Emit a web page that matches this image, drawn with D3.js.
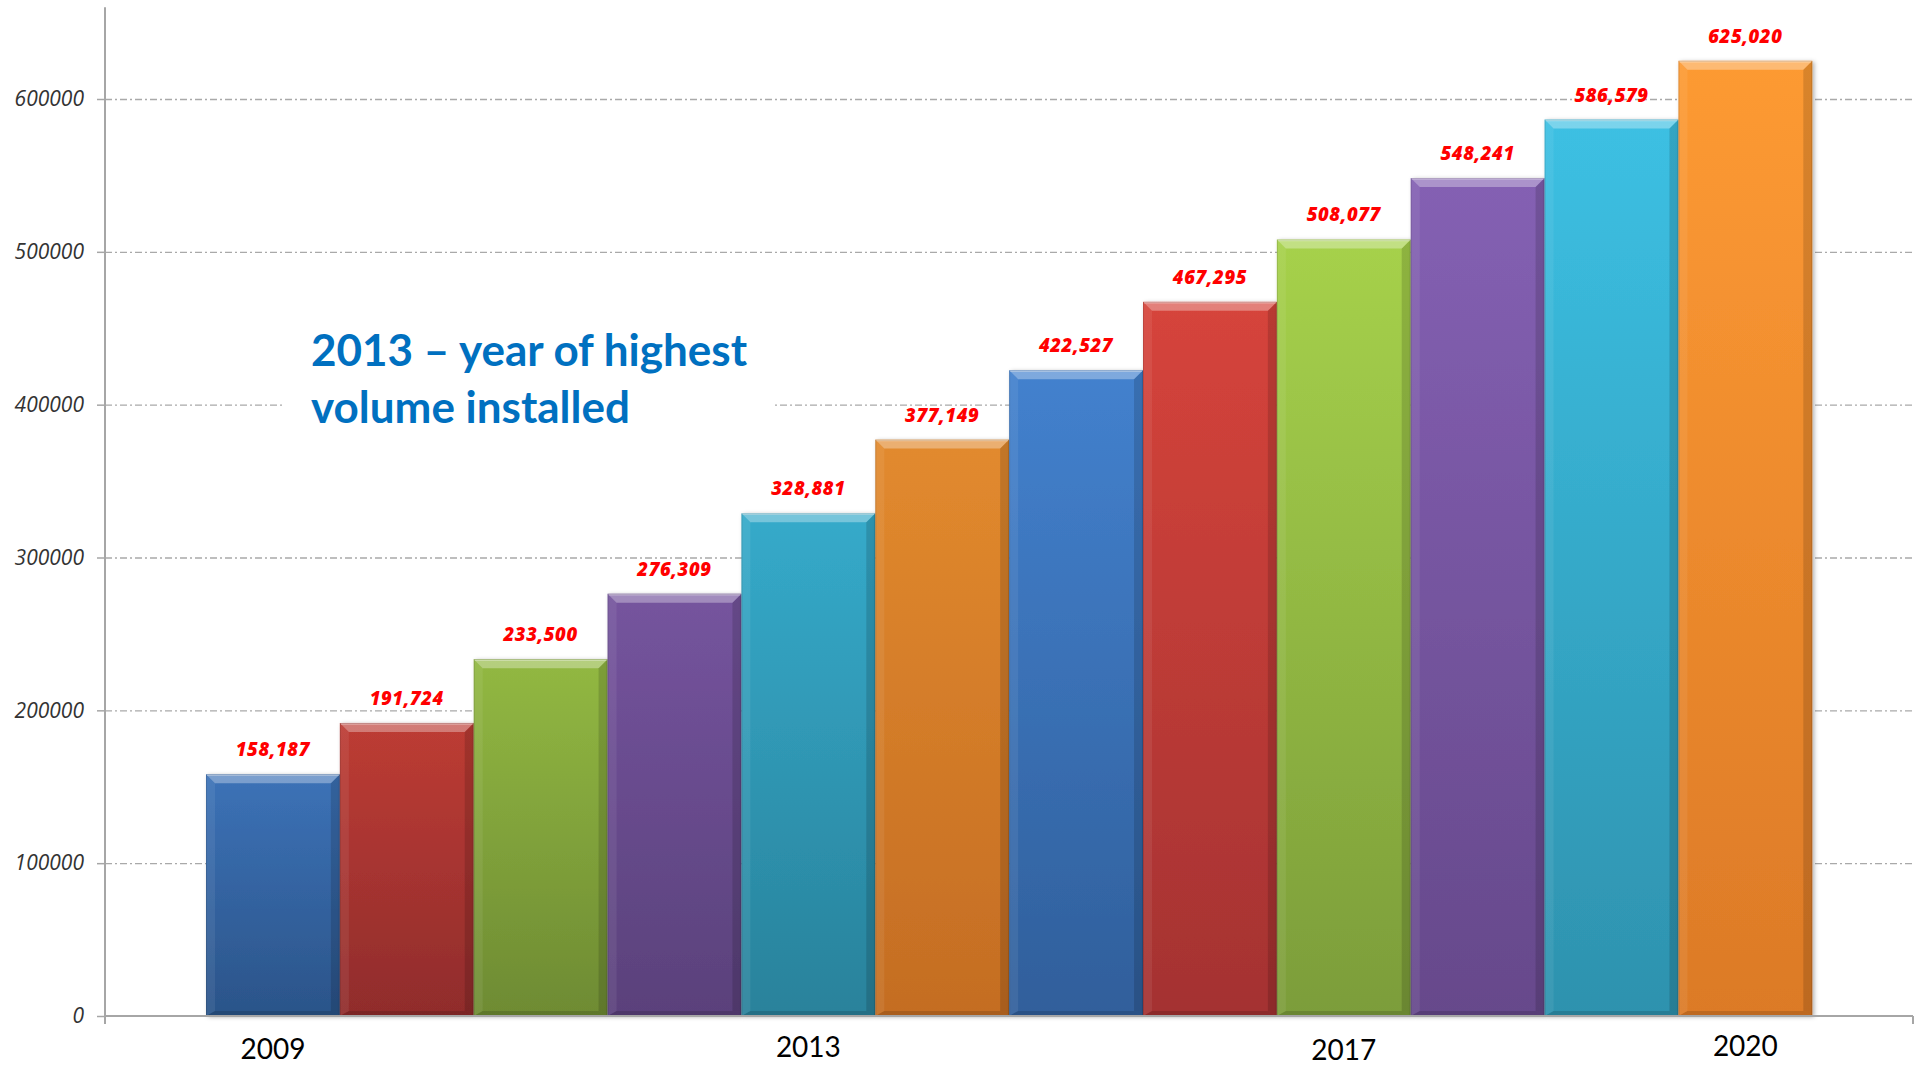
<!DOCTYPE html>
<html>
<head>
<meta charset="utf-8">
<script src="https://cdn.jsdelivr.net/npm/d3@7"></script>
<style>
  html, body { margin: 0; padding: 0; background: #ffffff; }
  svg { display: block; }
</style>
</head>
<body>
<svg id="chart" width="1919" height="1067"></svg>
<script>
// Cumulative installations per year
const years = ["2009", "2010", "2011", "2012", "2013", "2014", "2015", "2016", "2017", "2018", "2019", "2020"];
const installed = [158187, 191724, 233500, 276309, 328881, 377149, 422527, 467295, 508077, 548241, 586579, 625020];
const yTicks = [0, 100000, 200000, 300000, 400000, 500000, 600000];
const yearLabels = ["2009", "2013", "2017", "2020"];
const noteLines = ["2013 – year of highest", "volume installed"];

// Office-style palette: top and bottom gradient colours at full height
const hueTop    = ["#4a8de2", "#e6493f", "#afdc4f", "#8963b9", "#3dc3e7", "#fd9a33"];
const hueBottom = ["#3568aa", "#b03636", "#83a63d", "#6a4c90", "#2f95b1", "#dc7a27"];

const svg = d3.select("#chart");
const axisLeftX = 105, axisRightX = 1913, baseY = 1016;

const x = d3.scaleBand().domain(years).range([206, 1812.3]).padding(0);
const y = d3.scaleLinear().domain([0, 660000]).range([baseY, 7.3]);
const maxV = d3.max(installed);

const topScale = d3.scaleOrdinal().domain(years).range(hueTop);
const botScale = d3.scaleOrdinal().domain(years).range(hueBottom);

const defs = svg.append("defs");
const shadow = defs.append("filter").attr("id", "barShadow")
  .attr("x", "-10%").attr("y", "-10%").attr("width", "130%").attr("height", "130%");
shadow.append("feDropShadow").attr("dx", 2).attr("dy", 1).attr("stdDeviation", 2)
  .attr("flood-color", "#000").attr("flood-opacity", 0.3);

const data = years.map((yr, i) => ({ year: yr, value: installed[i] }));

data.forEach((d, i) => {
  const dim = (1 - d.value / maxV) * 0.8;
  const g = defs.append("linearGradient").attr("id", "grad" + i)
    .attr("x1", 0).attr("y1", 0).attr("x2", 0).attr("y2", 1);
  g.append("stop").attr("offset", "0%").attr("stop-color", d3.color(topScale(d.year)).darker(dim));
  g.append("stop").attr("offset", "100%").attr("stop-color", d3.color(botScale(d.year)).darker(dim));
});

// Gridlines (dash-dot)
svg.append("g")
  .attr("transform", `translate(${axisLeftX},0)`)
  .call(d3.axisLeft(y).tickValues(yTicks.filter(t => t > 0)).tickSize(-(axisRightX - axisLeftX)).tickFormat(""))
  .call(g => g.select(".domain").remove())
  .call(g => g.selectAll("line").attr("stroke", "#a9a9a9").attr("stroke-width", 1.3).attr("stroke-dasharray", "7,3,2,3"));

// Y axis with outward ticks and italic labels
svg.append("g")
  .attr("transform", `translate(${axisLeftX},0)`)
  .call(d3.axisLeft(y).tickValues(yTicks).tickSize(8).tickPadding(13).tickFormat(d3.format("d")))
  .call(g => g.select(".domain").remove())
  .call(g => g.selectAll("line").attr("stroke", "#a6a6a6").attr("stroke-width", 1.5))
  .call(g => g.selectAll("text")
    .attr("fill", "#333333")
    .style("font-family", "'Open Sans', sans-serif")
    .style("font-style", "italic")
    .style("font-size", "21px"));

svg.append("line")
  .attr("x1", axisLeftX).attr("x2", axisLeftX).attr("y1", y.range()[1]).attr("y2", baseY + 8)
  .attr("stroke", "#a6a6a6").attr("stroke-width", 2);

// Annotation box (white backing hides gridline behind the text)
svg.append("rect").attr("x", 284).attr("y", 306).attr("width", 488).attr("height", 132).attr("fill", "#ffffff");
svg.append("text")
  .attr("x", 311).attr("y", 366)
  .attr("fill", "#0070c0")
  .style("font-family", "Lato, sans-serif")
  .style("font-weight", "700")
  .style("font-size", "44px")
  .selectAll("tspan").data(noteLines).join("tspan")
  .attr("x", 311).attr("dy", (d, i) => i === 0 ? 0 : 56.7)
  .text(d => d);

// Bars with bevel
const b = 9, bb = 5;
const bars = svg.append("g").selectAll("g.bar").data(data).join("g").attr("class", "bar");

bars.append("rect")
  .attr("x", d => x(d.year)).attr("y", d => y(d.value))
  .attr("width", x.bandwidth()).attr("height", d => baseY - y(d.value))
  .attr("fill", (d, i) => `url(#grad${i})`)
  .attr("filter", "url(#barShadow)");

bars.each(function(d) {
  const g = d3.select(this);
  const x0 = x(d.year), x1 = x0 + x.bandwidth(), y0 = y(d.value), y1 = baseY;
  const poly = pts => pts.map(p => p.join(",")).join(" ");
  // left edge
  g.append("polygon").attr("points", poly([[x0, y0], [x0 + b, y0 + b], [x0 + b, y1 - bb], [x0, y1]]))
    .attr("fill", "#ffffff").attr("fill-opacity", 0.07);
  // right edge
  g.append("polygon").attr("points", poly([[x1, y0], [x1 - b, y0 + b], [x1 - b, y1 - bb], [x1, y1]]))
    .attr("fill", "#000000").attr("fill-opacity", 0.14);
  // bottom edge
  g.append("polygon").attr("points", poly([[x0, y1], [x0 + b, y1 - bb], [x1 - b, y1 - bb], [x1, y1]]))
    .attr("fill", "#000000").attr("fill-opacity", 0.14);
  // top bevel
  g.append("polygon").attr("points", poly([[x0, y0], [x1, y0], [x1 - b, y0 + b], [x0 + b, y0 + b]]))
    .attr("fill", "#ffffff").attr("fill-opacity", 0.32);
  g.append("line").attr("x1", x0 + 1).attr("x2", x1 - 1).attr("y1", y0 + 1).attr("y2", y0 + 1)
    .attr("stroke", "#ffffff").attr("stroke-opacity", 0.35).attr("stroke-width", 1.5);
  g.append("rect").attr("x", x0 + 0.5).attr("y", y0 + 0.5).attr("width", x1 - x0 - 1).attr("height", y1 - y0 - 1)
    .attr("fill", "none").attr("stroke", "#000").attr("stroke-opacity", 0.12);
});

// Value labels
svg.append("g").selectAll("text").data(data).join("text")
  .attr("x", d => x(d.year) + x.bandwidth() / 2)
  .attr("y", d => y(d.value) - 18)
  .attr("text-anchor", "middle")
  .attr("fill", "#ff0000")
  .style("font-family", "'Open Sans', sans-serif")
  .style("font-weight", "800")
  .style("font-style", "italic")
  .style("font-size", "18.5px")
  .style("letter-spacing", "0.6px")
  .text(d => d3.format(",")(d.value));

// X axis line with end ticks
svg.append("line").attr("x1", axisLeftX).attr("x2", axisRightX).attr("y1", baseY).attr("y2", baseY)
  .attr("stroke", "#a6a6a6").attr("stroke-width", 2);
svg.append("line").attr("x1", axisRightX).attr("x2", axisRightX).attr("y1", baseY).attr("y2", baseY + 8)
  .attr("stroke", "#a6a6a6").attr("stroke-width", 2);

// Year labels (each sits at its own baseline)
const labelBaseline = { "2009": 1059, "2013": 1057, "2017": 1060, "2020": 1056 };
svg.append("g").selectAll("text").data(yearLabels).join("text")
  .attr("x", d => x(d) + x.bandwidth() / 2)
  .attr("y", d => labelBaseline[d])
  .attr("text-anchor", "middle")
  .attr("fill", "#000000")
  .style("font-family", "Lato, sans-serif")
  .style("font-size", "28px")
  .text(d => d);
</script>
</body>
</html>
